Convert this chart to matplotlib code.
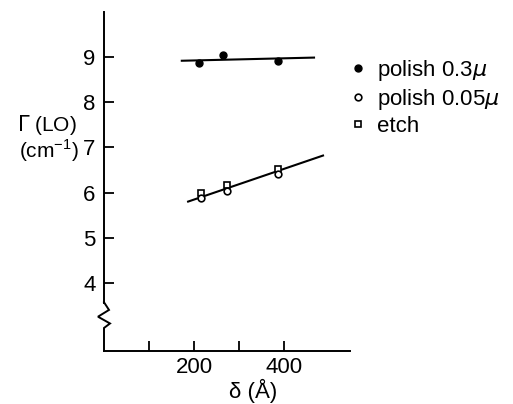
import matplotlib
matplotlib.use("Agg")
import matplotlib.pyplot as plt
from matplotlib.lines import Line2D
import matplotlib.transforms as mtransforms

plt.rcParams['font.family'] = ['Liberation Sans', 'DejaVu Sans']
plt.rcParams['mathtext.fontset'] = 'dejavusans'

# data
delta_polish03 = [212, 265, 387]
gamma_polish03 = [8.87, 9.04, 8.92]
fit03_x = [173, 467]
fit03_y = [8.92, 8.99]

delta_etch = [215, 274, 387]
gamma_etch = [5.98, 6.16, 6.53]
delta_polish005 = [215, 274, 387]
gamma_polish005 = [5.87, 6.04, 6.42]
fit005_x = [187, 487]
fit005_y = [5.80, 6.82]

yticks = [4, 5, 6, 7, 8, 9]
xticks = [100, 200, 300, 400]
xticklabels = ['', '200', '', '400']

fig = plt.figure(figsize=(5.13, 4.04), dpi=100)
ax = fig.add_axes([104 / 513, 1 - 351 / 404, 246 / 513, 339 / 404])

ax.plot(fit03_x, fit03_y, color='black', lw=1.5)
ax.plot(fit005_x, fit005_y, color='black', lw=1.5)
ax.plot(delta_polish03, gamma_polish03, 'o', color='black', ms=5, zorder=3)
ax.plot(delta_etch, gamma_etch, 's', mfc='white', mec='black', mew=1.2, ms=4.8, zorder=3)
ax.plot(delta_polish005, gamma_polish005, 'o', mfc='white', mec='black', mew=1.2, ms=4.8, zorder=3)

ax.set_xlim(0, 547)
ax.set_ylim(2.49, 10.0)
ax.set_yticks(yticks)
ax.set_xticks(xticks)
ax.set_xticklabels(xticklabels)
ax.tick_params(axis='both', direction='in', length=7, width=1.3, labelsize=16, pad=4)
ax.tick_params(axis='y', pad=6)
for s in ['top', 'right']:
    ax.spines[s].set_visible(False)
for s in ['left', 'bottom']:
    ax.spines[s].set_linewidth(1.4)

# axis break on the y axis
ax.spines['left'].set_bounds(3.56, 10.0)
trans = mtransforms.blended_transform_factory(ax.transAxes, ax.transData)
px = 1 / 246
brk_x = [0, 0, 6 * px, -6 * px, 5 * px, 0]
brk_y = [2.49, 3.0, 3.10, 3.25, 3.40, 3.57]
ax.plot(brk_x, brk_y, color='black', lw=1.4, transform=trans, clip_on=False,
        solid_joinstyle='miter')

ax.set_xlabel(r'δ (Å)', fontsize=16)
ax.xaxis.set_label_coords((253 - 104) / 246, -0.082)
fig.text(47 / 513, 1 - 125 / 404, r'$\Gamma$ (LO)', fontsize=15, ha='center', va='center')
fig.text(49 / 513, 1 - 151 / 404, r'(cm$^{\mathregular{-1}}$)', fontsize=15, ha='center', va='center')

handles = [
    Line2D([], [], ls='none', marker='o', color='black', ms=5),
    Line2D([], [], ls='none', marker='o', mfc='white', mec='black', mew=1.2, ms=4.8),
    Line2D([], [], ls='none', marker='s', mfc='white', mec='black', mew=1.2, ms=4.8),
]
labels = [r'polish 0.3$\mu$', r'polish 0.05$\mu$', 'etch']
fig.legend(handles, labels, loc='upper left', bbox_to_anchor=(339 / 513, 1 - 47 / 404),
           frameon=False, fontsize=16, handlelength=0.7, handletextpad=0.5,
           labelspacing=0.18, borderpad=0)

fig.savefig('out.png', dpi=100)
